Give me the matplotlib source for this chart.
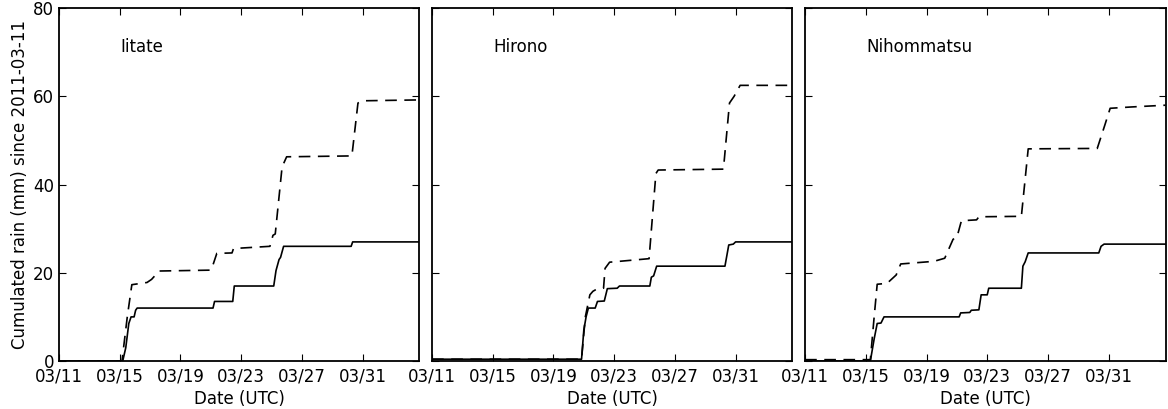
import numpy as np
import pandas as pd
import matplotlib
matplotlib.use("Agg")
import matplotlib.pyplot as plt
import matplotlib.dates as mdates

# ------------------------------------------------------------------------------
#  Data: (days since 2011-03-11 00:00 UTC, cumulated rain in mm)
# ------------------------------------------------------------------------------
START = pd.Timestamp("2011-03-11")
END_DAYS = 23.75

stations = ["Iitate", "Hirono", "Nihommatsu"]

iitate_solid_t = [0.0, 4.2, 4.4, 4.6, 4.75, 4.95, 5.05, 5.15, 10.15, 10.25, 11.45, 11.55,
                  14.15, 14.3, 14.5, 14.6, 14.8, 19.25, 19.35, END_DAYS]
iitate_solid_v = [0.0, 0.0, 3.0, 8.5, 10.0, 10.0, 11.5, 12.0, 12.0, 13.5, 13.5, 17.0,
                  17.0, 20.5, 23.0, 23.5, 26.0, 26.0, 27.0, 27.0]
iitate_dash_t = [0.0, 4.15, 4.5, 4.8, 5.8, 6.1, 6.6, 10.0, 10.1, 10.4, 11.4, 11.5,
                 13.9, 14.1, 14.25, 14.7, 15.0, 19.3, 19.7, 20.0, END_DAYS]
iitate_dash_v = [0.0, 0.0, 10.0, 17.3, 17.8, 18.5, 20.4, 20.6, 21.3, 24.4, 24.5, 25.5,
                 26.0, 28.5, 28.8, 44.0, 46.3, 46.5, 58.5, 59.0, 59.2]

hirono_solid_t = [0.0, 9.85, 10.0, 10.15, 10.3, 10.75, 10.9, 11.35, 11.55, 12.2, 12.35,
                  14.35, 14.45, 14.6, 14.8, 19.3, 19.55, 19.85, 20.0, END_DAYS]
hirono_solid_v = [0.4, 0.4, 7.0, 10.0, 12.0, 12.0, 13.5, 13.6, 16.4, 16.5, 17.0,
                  17.0, 19.0, 19.3, 21.5, 21.5, 26.3, 26.5, 27.0, 27.0]
hirono_dash_t = [0.0, 9.85, 10.1, 10.4, 10.6, 10.9, 11.3, 11.4, 11.7, 14.3, 14.75, 14.9,
                 19.2, 19.6, 19.9, 20.3, END_DAYS]
hirono_dash_v = [0.4, 0.4, 10.0, 15.0, 15.8, 16.4, 16.5, 21.0, 22.4, 23.2, 42.5, 43.3,
                 43.5, 58.5, 60.0, 62.5, 62.5]

nihom_solid_t = [0.0, 4.3, 4.55, 4.75, 5.0, 5.2, 10.15, 10.25, 10.85, 10.95, 11.45, 11.6,
                 12.0, 12.1, 14.25, 14.35, 14.5, 14.7, 19.35, 19.5, 19.7, END_DAYS]
nihom_solid_v = [0.0, 0.0, 5.0, 8.5, 8.6, 10.0, 10.0, 10.9, 11.0, 11.5, 11.6, 15.0,
                 15.0, 16.5, 16.5, 21.5, 22.5, 24.5, 24.5, 26.0, 26.5, 26.5]
nihom_dash_t = [0.0, 4.3, 4.55, 4.75, 5.4, 6.0, 6.3, 8.5, 9.2, 9.75, 10.0, 10.3, 11.3,
                11.45, 14.25, 14.7, 19.25, 19.75, 20.1, 21.5, END_DAYS]
nihom_dash_v = [0.3, 0.3, 10.0, 17.4, 17.6, 19.5, 22.0, 22.6, 23.3, 27.6, 28.0, 31.8, 32.0,
                32.7, 32.8, 48.1, 48.2, 53.5, 57.3, 57.6, 58.0]

solid_t = [iitate_solid_t, hirono_solid_t, nihom_solid_t]
solid_v = [iitate_solid_v, hirono_solid_v, nihom_solid_v]
dash_t = [iitate_dash_t, hirono_dash_t, nihom_dash_t]
dash_v = [iitate_dash_v, hirono_dash_v, nihom_dash_v]


def to_dates(days):
    return START + pd.to_timedelta(np.asarray(days), unit="D")


# ------------------------------------------------------------------------------
#  Plot
# ------------------------------------------------------------------------------
plt.rcParams["font.size"] = 12
plt.rcParams["font.family"] = "DejaVu Sans"

fig, axs = plt.subplots(1, 3, sharey=True, figsize=(11.68, 4.09), dpi=100)
fig.subplots_adjust(left=0.0505, right=0.9979, top=0.980, bottom=0.1174, wspace=0.035)

ticks = pd.date_range("2011-03-11", "2011-03-31", freq="4D")

for i, ax in enumerate(axs):
    ax.plot(to_dates(solid_t[i]), solid_v[i], "-k", lw=1.2)
    ax.plot(to_dates(dash_t[i]), dash_v[i], color="k", lw=1.2, ls=(0, (7, 4.5)))
    ax.text(0.17, 0.89, stations[i], transform=ax.transAxes, ha="left", va="center")
    ax.set_xlim(START, START + pd.Timedelta(days=END_DAYS))
    ax.set_ylim(0, 80)
    ax.set_yticks([0, 20, 40, 60, 80])
    ax.set_xticks(ticks)
    ax.xaxis.set_major_formatter(mdates.DateFormatter("%m/%d"))
    ax.tick_params(direction="in", top=True, right=True, length=5, width=0.8)
    ax.tick_params(axis="x", pad=5)
    ax.set_xlabel("Date (UTC)", labelpad=3)
    for sp in ax.spines.values():
        sp.set_linewidth(1.3)

axs[0].set_ylabel("Cumulated rain (mm) since 2011-03-11", labelpad=3)

fig.savefig("out.png", dpi=100)
